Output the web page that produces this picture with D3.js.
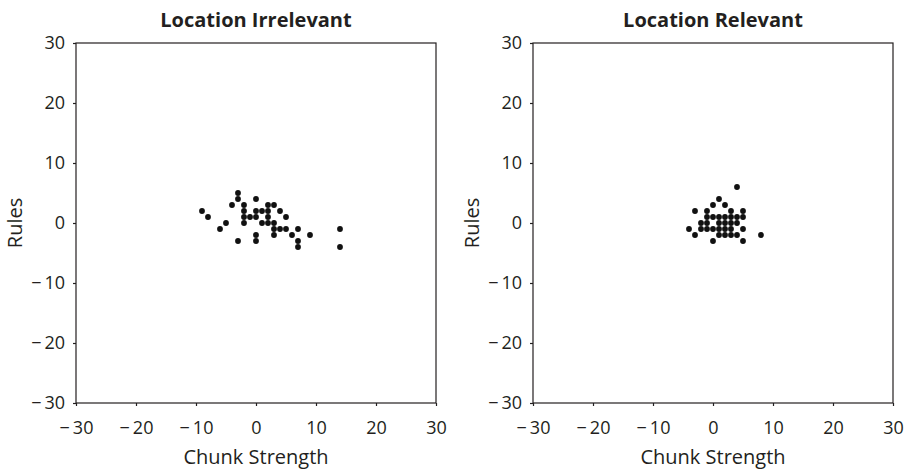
<!DOCTYPE html>
<html>
<head>
<meta charset="utf-8">
<script src="https://cdn.jsdelivr.net/npm/d3@7"></script>
<style>
  body { margin: 0; background: #fff; }
  text { font-family: "Open Sans", "Noto Sans", sans-serif; fill: #231f20; }
</style>
</head>
<body>
<svg id="chart" width="908" height="471"></svg>
<script>
"use strict";

// données : [chunk strength, rules]
var irrelevantPoints = [
  [-3, 5], [-3, 4], [0, 4], [-4, 3], [-2, 3], [2, 3], [3, 3],
  [-9, 2], [-2, 2], [0, 2], [1, 2], [2, 2], [4, 2],
  [-8, 1], [-2, 1], [-1, 1], [0, 1], [2, 1], [5, 1],
  [-5, 0], [-2, 0], [1, 0], [2, 0], [3, 0],
  [-6, -1], [3, -1], [4, -1], [5, -1], [7, -1], [14, -1],
  [0, -2], [3, -2], [6, -2], [9, -2],
  [-3, -3], [0, -3], [7, -3], [7, -4], [14, -4]
]

var relevantPoints = [
  [4, 6], [1, 4], [0, 3], [2, 3],
  [-3, 2], [-1, 2], [3, 2], [5, 2],
  [-1, 1], [0, 1], [1, 1], [2, 1], [3, 1], [4, 1], [5, 1],
  [-2, 0], [-1, 0], [1, 0], [2, 0], [3, 0], [4, 0],
  [-4, -1], [-2, -1], [-1, -1], [0, -1], [1, -1], [2, -1], [3, -1], [5, -1],
  [-3, -2], [1, -2], [2, -2], [3, -2], [4, -2], [8, -2],
  [0, -3], [5, -3]
]

var tickValues = [-30, -20, -10, 0, 10, 20, 30]
var panelTitles = ["Location Irrelevant", "Location Relevant"]
var xLabel = "Chunk Strength"
var yLabel = "Rules"

var svg = d3.select("#chart")

function fmt(d) {
  return d < 0 ? "\u2212\u2009" + Math.abs(d) : String(d)
}

/**
 * Dessine un panneau (cadre, axes, points, titres)
 */
function drawPanel(left, points, title) {
  var width = 360, top = 43, height = 360

  var x = d3.scaleLinear().domain([-30, 30]).range([left, left + width])
  var y = d3.scaleLinear().domain([-30, 30]).range([top + height, top])

  var g = svg.append("g")

  // cadre
  g.append("rect")
    .attr("x", left).attr("y", top)
    .attr("width", width).attr("height", height)
    .attr("fill", "none")
    .attr("stroke", "#231f20")
    .attr("stroke-width", 1.2)

  var xAxis = g.append("g")
    .attr("transform", "translate(0," + (top + height) + ")")
    .call(d3.axisBottom(x).tickValues(tickValues).tickFormat(fmt).tickSize(3).tickPadding(15))
  var yAxis = g.append("g")
    .attr("transform", "translate(" + left + ",0)")
    .call(d3.axisLeft(y).tickValues(tickValues).tickFormat(fmt).tickSize(3).tickPadding(8))

  ;[xAxis, yAxis].forEach(function(a) {
    a.select(".domain").remove()
    a.selectAll("line").attr("stroke", "#231f20").attr("stroke-width", 1.2)
    a.selectAll("text")
      .style("font-family", "'Open Sans', 'Noto Sans', sans-serif")
      .style("font-size", "18px")
      .attr("fill", "#231f20")
  })

  g.selectAll("circle")
    .data(points)
    .enter()
    .append("circle")
      .attr("cx", d => x(d[0]))
      .attr("cy", d => y(d[1]))
      .attr("r", 2.9)
      .attr("fill", "#111")

  g.append("text")
    .attr("x", left + width / 2)
    .attr("y", 27)
    .attr("text-anchor", "middle")
    .style("font-size", "20px")
    .style("font-weight", "bold")
    .text(title)

  g.append("text")
    .attr("x", left + width / 2)
    .attr("y", 464)
    .attr("text-anchor", "middle")
    .style("font-size", "20px")
    .text(xLabel)

  g.append("text")
    .attr("transform", "translate(" + (left - 54) + "," + y(0) + ") rotate(-90)")
    .attr("text-anchor", "middle")
    .style("font-size", "20px")
    .text(yLabel)
}

drawPanel(76, irrelevantPoints, panelTitles[0])
drawPanel(533, relevantPoints, panelTitles[1])
</script>
</body>
</html>
